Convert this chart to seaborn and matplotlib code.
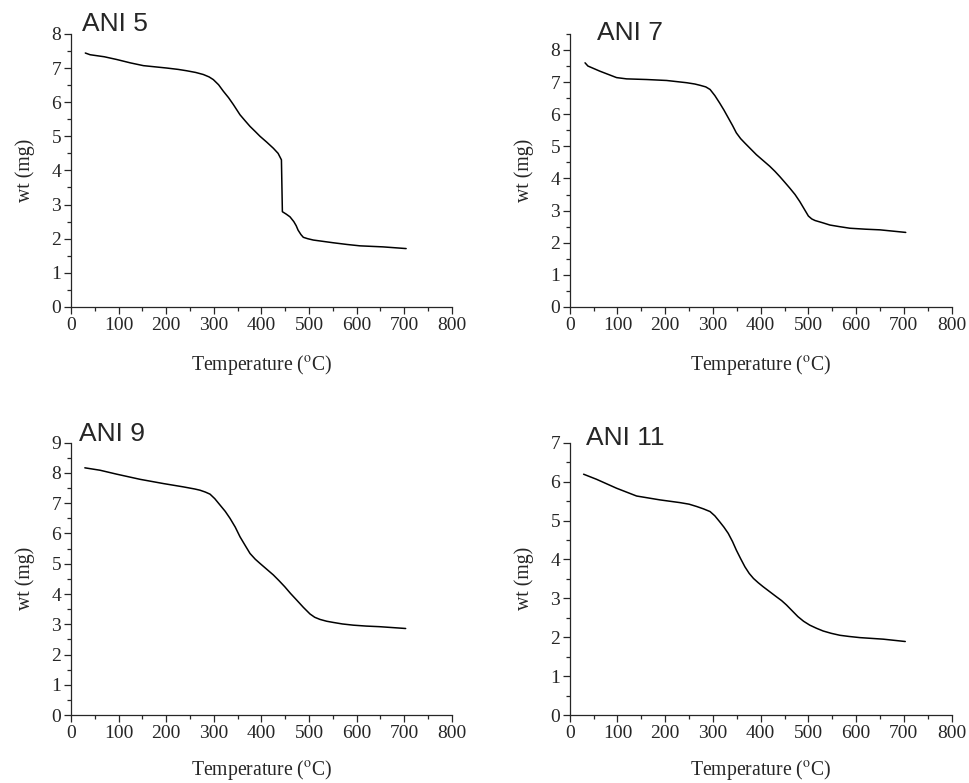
import numpy as np
import pandas as pd
import matplotlib
matplotlib.use('Agg')
import matplotlib.pyplot as plt
import seaborn as sns
from matplotlib.ticker import MultipleLocator

# TGA curves: temperature (degC) and weight (mg)
ani5_temp = [30, 40, 70, 96, 125, 152, 180, 201, 225, 243, 262, 278, 290, 299, 310, 320, 331, 341,
             355, 366, 376, 387, 397, 411, 425, 435, 442, 444, 452, 460, 468, 473, 477, 483, 488,
             497, 509, 530, 551, 580, 607, 655, 704]
ani5_wt = [7.44, 7.39, 7.33, 7.25, 7.15, 7.07, 7.03, 7.00, 6.96, 6.92, 6.87, 6.81, 6.74, 6.66, 6.51,
           6.32, 6.13, 5.93, 5.63, 5.45, 5.29, 5.14, 5.00, 4.83, 4.65, 4.50, 4.31, 2.79, 2.72,
           2.64, 2.50, 2.38, 2.25, 2.12, 2.04, 2.00, 1.96, 1.92, 1.88, 1.83, 1.79, 1.76, 1.71]

ani7_temp = [32, 38, 63, 98, 119, 161, 203, 245, 262, 273, 285, 294, 304, 314, 323, 332, 341,
             349, 358, 367, 379, 391, 405, 419, 430, 440, 450, 461, 472, 482, 492, 500, 507, 514,
             530, 545, 565, 587, 620, 650, 704]
ani7_wt = [7.60, 7.50, 7.34, 7.14, 7.10, 7.08, 7.05, 6.98, 6.94, 6.90, 6.85, 6.77, 6.58, 6.35,
           6.13, 5.89, 5.65, 5.42, 5.24, 5.10, 4.92, 4.74, 4.56, 4.38, 4.22, 4.06, 3.89, 3.70,
           3.50, 3.28, 3.03, 2.83, 2.74, 2.69, 2.62, 2.55, 2.50, 2.45, 2.42, 2.40, 2.32]

ani9_temp = [29, 61, 96, 145, 194, 236, 260, 271, 282, 292, 302, 313, 324, 334, 345, 355, 366,
             376, 387, 397, 411, 425, 437, 449, 461, 474, 488, 502, 512, 523, 537, 551, 570,
             593, 620, 648, 703]
ani9_wt = [8.17, 8.09, 7.96, 7.79, 7.65, 7.54, 7.47, 7.43, 7.37, 7.30, 7.15, 6.94, 6.73, 6.50,
           6.21, 5.89, 5.60, 5.34, 5.15, 5.01, 4.82, 4.63, 4.44, 4.24, 4.02, 3.80, 3.56, 3.34,
           3.23, 3.16, 3.10, 3.06, 3.01, 2.97, 2.94, 2.92, 2.86]

ani11_temp = [29, 56, 98, 140, 189, 231, 250, 266, 280, 294, 304, 314, 323, 332, 341, 349, 358,
              367, 376, 385, 395, 405, 419, 433, 444, 454, 466, 478, 490, 503, 517, 531, 548,
              566, 585, 608, 657, 703]
ani11_wt = [6.19, 6.06, 5.83, 5.63, 5.53, 5.46, 5.42, 5.36, 5.30, 5.23, 5.12, 4.97, 4.83, 4.67,
            4.46, 4.24, 4.02, 3.81, 3.64, 3.51, 3.40, 3.30, 3.17, 3.04, 2.94, 2.83, 2.68, 2.53,
            2.41, 2.31, 2.23, 2.16, 2.10, 2.05, 2.02, 1.99, 1.95, 1.89]

names = ['ANI 5', 'ANI 7', 'ANI 9', 'ANI 11']
ymax = [8, 8.5, 9, 7]

sns.set_style('ticks')
plt.rcParams['font.family'] = ['Liberation Serif', 'DejaVu Serif']
plt.rcParams['mathtext.fontset'] = 'stix'
plt.rcParams['xtick.direction'] = 'out'
plt.rcParams['ytick.direction'] = 'out'

fig = plt.figure(figsize=(9.69, 7.83), dpi=100)
boxes = [[0.0733, 0.608, 0.393, 0.3487],
         [0.588, 0.608, 0.394, 0.3487],
         [0.0733, 0.0868, 0.393, 0.3478],
         [0.588, 0.0868, 0.394, 0.3478]]
title_pos = [(0.029, 1.011), (0.071, 0.979), (0.021, 1.006), (0.042, 0.991)]
xpad = [14, 14, 11.5, 11.5]
curves = [(ani5_temp, ani5_wt), (ani7_temp, ani7_wt), (ani9_temp, ani9_wt), (ani11_temp, ani11_wt)]

for i in range(4):
    ax = fig.add_axes(boxes[i])
    df = pd.DataFrame({'temp': curves[i][0], 'wt': curves[i][1]})
    sns.lineplot(data=df, x='temp', y='wt', ax=ax, color='black', linewidth=1.1, sort=False)
    ax.set_xlim(0, 800)
    ax.set_ylim(0, ymax[i])
    ax.xaxis.set_major_locator(MultipleLocator(100))
    ax.xaxis.set_minor_locator(MultipleLocator(50))
    ax.yaxis.set_major_locator(MultipleLocator(1))
    ax.yaxis.set_minor_locator(MultipleLocator(0.5))
    ax.tick_params(which='major', length=5, width=0.9, labelsize=14, pad=2)
    ax.tick_params(which='minor', length=3, width=0.9)
    for s in ['left', 'bottom']:
        ax.spines[s].set_linewidth(0.9)
    sns.despine(ax=ax)
    ax.set_xlabel(r'Temperature ($^{\rm o}$C)', fontsize=14.2, labelpad=xpad[i])
    ax.set_ylabel('wt (mg)', fontsize=14.2, labelpad=12)
    ax.text(title_pos[i][0], title_pos[i][1], names[i], transform=ax.transAxes,
            fontsize=19, family='Liberation Sans', va='baseline', ha='left')

plt.savefig('out.png', dpi=100)
